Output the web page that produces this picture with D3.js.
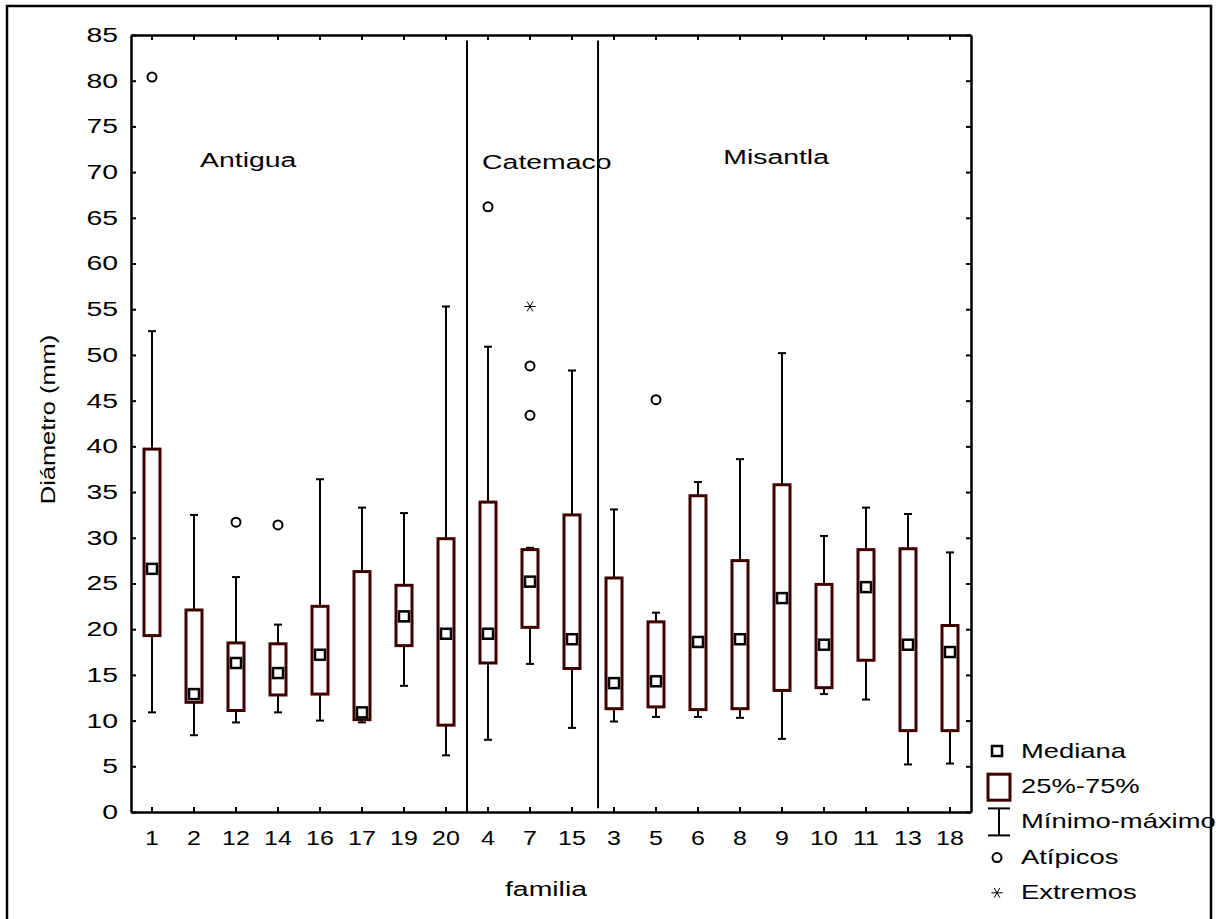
<!DOCTYPE html>
<html>
<head>
<meta charset="utf-8">
<script src="https://cdnjs.cloudflare.com/ajax/libs/d3/7.8.5/d3.min.js"></script>
<style>
  body { margin: 0; background: #fff; }
  text { font-family: "Liberation Sans", Arial, sans-serif; fill: #000; }
</style>
</head>
<body>
<div id="chart"></div>
<script>
// Datos: familias (orden del eje X) y estadísticos
const categories = ['1', '2', '12', '14', '16', '17', '19', '20', '4', '7', '15', '3', '5', '6', '8', '9', '10', '11', '13', '18'];
const minVals = [10.9, 8.4, 9.8, 10.9, 10.0, 9.8, 13.8, 6.2, 7.9, 16.2, 9.2, 9.9, 10.4, 10.4, 10.3, 8.0, 12.9, 12.3, 5.2, 5.3];
const q1Vals = [19.3, 12.0, 11.1, 12.8, 12.9, 10.1, 18.2, 9.5, 16.3, 20.2, 15.7, 11.3, 11.5, 11.2, 11.3, 13.3, 13.6, 16.6, 8.9, 8.9];
const medianVals = [26.6, 12.9, 16.3, 15.2, 17.2, 10.9, 21.4, 19.5, 19.5, 25.2, 18.9, 14.1, 14.3, 18.6, 18.9, 23.4, 18.3, 24.6, 18.3, 17.5];
const q3Vals = [39.7, 22.1, 18.5, 18.4, 22.5, 26.3, 24.8, 29.9, 33.9, 28.7, 32.5, 25.6, 20.8, 34.6, 27.5, 35.8, 24.9, 28.7, 28.8, 20.4];
const maxVals = [52.6, 32.5, 25.7, 20.5, 36.4, 33.3, 32.7, 55.3, 50.9, 28.9, 48.3, 33.1, 21.8, 36.1, 38.6, 50.2, 30.2, 33.3, 32.6, 28.4];

// Atípicos y extremos
const outlierCats = ['1', '12', '14', '4', '7', '7', '5'];
const outlierVals = [80.4, 31.7, 31.4, 66.2, 48.8, 43.4, 45.1];
const extremeCats = ['7'];
const extremeVals = [55.3];

// Ticks del eje Y
const yTicks = d3.range(0, 86, 5);

// Grupos (localidades) y separadores, en unidades de índice de categoría
const groupNames = ['Antigua', 'Catemaco', 'Misantla'];
const groupPos = [2.79, 9.9, 15.36];
const groupY = [71.3, 71.1, 71.6];
const separatorPos = [8, 11.12];
const separatorTop = [84.4, 84.4];
const separatorBottom = [0, 0.4];

// Leyenda
const legendLabels = ['Mediana', '25%-75%', 'Mínimo-máximo', 'Atípicos', 'Extremos'];

const width = 1227, height = 919;
const margin = {top: 35, right: 256, bottom: 107, left: 131};
const plotW = width - margin.left - margin.right;
const plotH = height - margin.top - margin.bottom;
const boxColor = '#3d0000';
const fontSize = 20;
const stretch = 1.42;

const svg = d3.select('#chart')
    .append('svg')
    .attr('width', width)
    .attr('height', height);

// Marco exterior
svg.append('rect')
    .attr('x', 7).attr('y', 6)
    .attr('width', 1204).attr('height', 930)
    .attr('fill', 'none')
    .attr('stroke', '#000')
    .attr('stroke-width', 2.5);

const g = svg.append('g')
    .attr('transform', `translate(${margin.left},${margin.top})`);

const x = d3.scaleBand()
    .domain(categories)
    .range([0, plotW]);
const xIdx = d3.scaleLinear()
    .domain([0, categories.length])
    .range([0, plotW]);
const y = d3.scaleLinear()
    .domain([0, 85])
    .range([plotH, 0]);
const cx = c => x(c) + x.bandwidth() / 2;

// Ejes (ticks hacia dentro)
function styleAxis(sel) {
    sel.select('.domain').attr('stroke-width', 2.5);
    sel.selectAll('.tick line').attr('stroke-width', 2);
}

const yAxisL = g.append('g')
    .call(d3.axisLeft(y).tickValues(yTicks).tickSize(-5).tickSizeOuter(0).tickPadding(13))
    .call(styleAxis);
yAxisL.selectAll('text')
    .attr('font-size', fontSize)
    .attr('x', -13 / stretch)
    .attr('transform', `scale(${stretch},1)`);

g.append('g')
    .attr('transform', `translate(${plotW},0)`)
    .call(d3.axisRight(y).tickValues(yTicks).tickSize(-5).tickSizeOuter(0).tickFormat(''))
    .call(styleAxis);

const xAxisB = g.append('g')
    .attr('transform', `translate(0,${plotH})`)
    .call(d3.axisBottom(x).tickSize(-5).tickSizeOuter(0).tickPadding(19))
    .call(styleAxis);
xAxisB.selectAll('text')
    .attr('font-size', fontSize)
    .attr('transform', `scale(1.25,1)`);

g.append('g')
    .call(d3.axisTop(x).tickSize(-5).tickSizeOuter(0).tickFormat(''))
    .call(styleAxis);

// Títulos de ejes
g.append('text')
    .attr('transform', `translate(${-76},${plotH / 2 - 4}) rotate(-90) scale(1.27,1)`)
    .attr('text-anchor', 'middle')
    .attr('font-size', fontSize)
    .text('Diámetro (mm)');

g.append('text')
    .attr('transform', `translate(${plotW / 2 - 5},${plotH + 84}) scale(${stretch},1)`)
    .attr('text-anchor', 'middle')
    .attr('font-size', fontSize)
    .text('familia');

// Separadores de grupos
g.selectAll('.sep')
    .data(separatorPos)
    .enter()
    .append('line')
    .attr('class', 'sep')
    .attr('x1', d => xIdx(d)).attr('x2', d => xIdx(d))
    .attr('y1', (d, i) => y(separatorTop[i]))
    .attr('y2', (d, i) => y(separatorBottom[i]))
    .attr('stroke', '#000')
    .attr('stroke-width', 2);

// Etiquetas de grupo
g.selectAll('.group-label')
    .data(groupNames)
    .enter()
    .append('text')
    .attr('class', 'group-label')
    .attr('text-anchor', 'middle')
    .attr('font-size', fontSize)
    .attr('transform', (d, i) => `translate(${xIdx(groupPos[i])},${y(groupY[i]) + 7}) scale(${stretch},1)`)
    .text(d => d);

// Cajas
const boxW = 16, capW = 8, medS = 10;
const rows = categories.map((c, i) => ({
    cat: c, min: minVals[i], q1: q1Vals[i], med: medianVals[i], q3: q3Vals[i], max: maxVals[i]
}));

const box = g.selectAll('.box')
    .data(rows)
    .enter()
    .append('g')
    .attr('class', 'box');

// Bigotes
box.append('line')
    .attr('x1', d => cx(d.cat)).attr('x2', d => cx(d.cat))
    .attr('y1', d => y(d.max)).attr('y2', d => y(d.min))
    .attr('stroke', '#000').attr('stroke-width', 2);
box.append('line')
    .attr('x1', d => cx(d.cat) - capW / 2).attr('x2', d => cx(d.cat) + capW / 2)
    .attr('y1', d => y(d.max)).attr('y2', d => y(d.max))
    .attr('stroke', '#000').attr('stroke-width', 2);
box.append('line')
    .attr('x1', d => cx(d.cat) - capW / 2).attr('x2', d => cx(d.cat) + capW / 2)
    .attr('y1', d => y(d.min)).attr('y2', d => y(d.min))
    .attr('stroke', '#000').attr('stroke-width', 2);

// Rectángulo 25%-75%
box.append('rect')
    .attr('x', d => cx(d.cat) - boxW / 2)
    .attr('width', boxW)
    .attr('y', d => y(d.q3))
    .attr('height', d => y(d.q1) - y(d.q3))
    .attr('fill', '#fff')
    .attr('stroke', boxColor)
    .attr('stroke-width', 3);

// Mediana
box.append('rect')
    .attr('x', d => cx(d.cat) - medS / 2)
    .attr('y', d => y(d.med) - medS / 2)
    .attr('width', medS).attr('height', medS)
    .attr('fill', '#fff')
    .attr('stroke', '#000')
    .attr('stroke-width', 2.5);

// Atípicos
g.selectAll('.outlier')
    .data(outlierVals)
    .enter()
    .append('circle')
    .attr('class', 'outlier')
    .attr('cx', (d, i) => cx(outlierCats[i]))
    .attr('cy', d => y(d))
    .attr('r', 4.5)
    .attr('fill', 'none')
    .attr('stroke', '#000')
    .attr('stroke-width', 2);

// Extremos
const asterisk = d3.symbol().type(d3.symbolAsterisk).size(90);
g.selectAll('.extreme')
    .data(extremeVals)
    .enter()
    .append('path')
    .attr('class', 'extreme')
    .attr('transform', (d, i) => `translate(${cx(extremeCats[i])},${y(d)}) rotate(90)`)
    .attr('d', asterisk)
    .attr('fill', 'none')
    .attr('stroke', '#000')
    .attr('stroke-width', 1);

// Leyenda
const legend = svg.append('g')
    .attr('transform', 'translate(997,751)');
const rowH = 35.2;

legend.selectAll('.leg-text')
    .data(legendLabels)
    .enter()
    .append('text')
    .attr('class', 'leg-text')
    .attr('font-size', fontSize)
    .attr('transform', (d, i) => `translate(24,${i * rowH + 7}) scale(1.37,1)`)
    .text(d => d);

legend.append('rect')
    .attr('x', -medS / 2).attr('y', -medS / 2)
    .attr('width', medS).attr('height', medS)
    .attr('fill', '#fff').attr('stroke', '#000').attr('stroke-width', 2.5);

legend.append('rect')
    .attr('x', -9).attr('y', rowH - 12)
    .attr('width', 22).attr('height', 26)
    .attr('fill', '#fff').attr('stroke', boxColor).attr('stroke-width', 3);

const wy = 2 * rowH;
legend.append('line')
    .attr('x1', 2).attr('x2', 2).attr('y1', wy - 13).attr('y2', wy + 14)
    .attr('stroke', '#000').attr('stroke-width', 2);
legend.append('line')
    .attr('x1', -9).attr('x2', 13).attr('y1', wy - 13).attr('y2', wy - 13)
    .attr('stroke', '#000').attr('stroke-width', 2);
legend.append('line')
    .attr('x1', -9).attr('x2', 13).attr('y1', wy + 14).attr('y2', wy + 14)
    .attr('stroke', '#000').attr('stroke-width', 2);

legend.append('circle')
    .attr('cx', 0).attr('cy', 3 * rowH + 1)
    .attr('r', 4.5)
    .attr('fill', 'none').attr('stroke', '#000').attr('stroke-width', 2);

legend.append('path')
    .attr('transform', `translate(0,${4 * rowH + 1}) rotate(90)`)
    .attr('d', asterisk)
    .attr('fill', 'none').attr('stroke', '#000').attr('stroke-width', 1);
</script>
</body>
</html>
